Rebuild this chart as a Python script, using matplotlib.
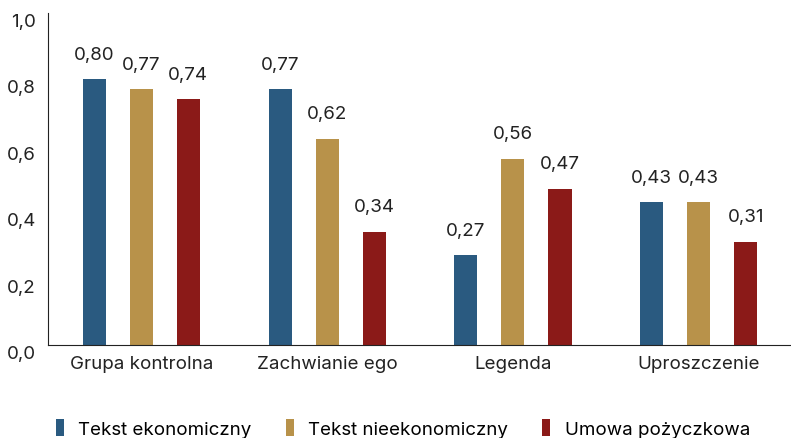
import matplotlib
matplotlib.use('Agg')
import matplotlib.pyplot as plt
import numpy as np

plt.rcParams['font.family'] = ['Inter', 'DejaVu Sans']

categories = ['Grupa kontrolna', 'Zachwianie ego', 'Legenda', 'Uproszczenie']
series_names = ['Tekst ekonomiczny', 'Tekst nieekonomiczny', 'Umowa pożyczkowa']
econ = [0.80, 0.77, 0.27, 0.43]
non_econ = [0.77, 0.62, 0.56, 0.43]
loan = [0.74, 0.34, 0.47, 0.31]
colors = ['#2a5a80', '#b8924a', '#8b1a18']
fs = 13.5

fig = plt.figure(figsize=(7.91, 4.39), dpi=100)
ax = fig.add_axes([0.061, 0.212, 0.94, 0.756])

x = np.arange(len(categories))
width = 0.124
offsets = [-0.253, 0.0, 0.253]
for vals, off, col, name in zip([econ, non_econ, loan], offsets, colors, series_names):
    bars = ax.bar(x + off, vals, width, color=col, label=name)
    for b, v in zip(bars, vals):
        ax.annotate(f'{v:.2f}'.replace('.', ','), (b.get_x() + b.get_width() / 2, v),
                    xytext=(0, 12), textcoords='offset points',
                    ha='center', va='bottom', fontsize=fs, color='#222222')

ax.set_xlim(-0.5, 3.5)
ax.set_ylim(0, 1.0)
ax.set_xticks(x)
ax.set_xticklabels(categories, fontsize=fs, color='#222222')
yt = np.arange(0, 1.01, 0.2)
ax.set_yticks(yt)
ax.set_yticklabels([f'{t:.1f}'.replace('.', ',') for t in yt], fontsize=fs, color='#222222')
ax.tick_params(axis='both', length=0)
ax.tick_params(axis='y', pad=9)
ax.tick_params(axis='x', pad=7)
for lbl in ax.get_yticklabels():
    lbl.set_va('top')
ax.spines['top'].set_visible(False)
ax.spines['right'].set_visible(False)
ax.spines['left'].set_color('#222222')
ax.spines['bottom'].set_color('#222222')

fig.legend(loc='center left', bbox_to_anchor=(0.049, 0.021), ncol=3, frameon=False,
           fontsize=fs, handlelength=0.43, handleheight=1.0, columnspacing=1.85,
           handletextpad=0.75)

plt.savefig('out.png', dpi=100)
